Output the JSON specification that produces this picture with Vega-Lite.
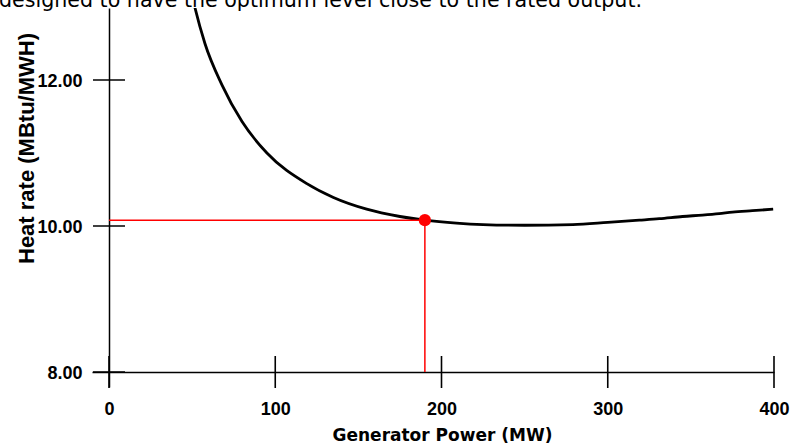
{
  "$schema": "https://vega.github.io/schema/vega-lite/v6.json",
  "width": 682,
  "height": 379,
  "autosize": {"type": "none"},
  "padding": {"left": 92, "top": 8, "right": 19, "bottom": 60},
  "background": "white",
  "title": {
    "text": "designed to have the optimum level close to the rated output.",
    "anchor": "start",
    "frame": "group",
    "orient": "top",
    "offset": 0,
    "dx": -93,
    "dy": 20,
    "baseline": "alphabetic",
    "font": "DejaVu Sans",
    "fontSize": 20.6,
    "fontWeight": "normal",
    "color": "black"
  },
  "config": {"view": {"stroke": null}},
  "datasets": {
    "curve": [
      {"power": 48, "heat_rate": 13.36},
      {"power": 51.7, "heat_rate": 12.99},
      {"power": 57.7, "heat_rate": 12.5},
      {"power": 68, "heat_rate": 11.93},
      {"power": 80, "heat_rate": 11.43},
      {"power": 95, "heat_rate": 11.0},
      {"power": 119, "heat_rate": 10.58},
      {"power": 135, "heat_rate": 10.39},
      {"power": 155, "heat_rate": 10.23},
      {"power": 175, "heat_rate": 10.13},
      {"power": 190, "heat_rate": 10.08},
      {"power": 209, "heat_rate": 10.04},
      {"power": 225, "heat_rate": 10.02},
      {"power": 250, "heat_rate": 10.01},
      {"power": 279, "heat_rate": 10.02},
      {"power": 300, "heat_rate": 10.05},
      {"power": 319, "heat_rate": 10.08},
      {"power": 331, "heat_rate": 10.1},
      {"power": 345, "heat_rate": 10.13},
      {"power": 357, "heat_rate": 10.15},
      {"power": 367, "heat_rate": 10.17},
      {"power": 375, "heat_rate": 10.19},
      {"power": 387, "heat_rate": 10.21},
      {"power": 399.5, "heat_rate": 10.23}
    ],
    "operating_point": [
      {"power": 190, "heat_rate": 10.08}
    ],
    "x_ticks": [
      {"power": 0, "heat_rate": 8},
      {"power": 100, "heat_rate": 8},
      {"power": 200, "heat_rate": 8},
      {"power": 300, "heat_rate": 8},
      {"power": 400, "heat_rate": 8}
    ],
    "y_ticks": [
      {"power": 0, "heat_rate": 8},
      {"power": 0, "heat_rate": 10},
      {"power": 0, "heat_rate": 12}
    ]
  },
  "encoding": {
    "x": {
      "field": "power",
      "type": "quantitative",
      "scale": {"domain": [-10.226, 400], "nice": false, "zero": false},
      "axis": {
        "title": "Generator Power (MW)",
        "values": [0, 100, 200, 300, 400],
        "format": "d",
        "offset": -15,
        "ticks": false,
        "tickSize": 0,
        "grid": false,
        "domainColor": "black",
        "domainWidth": 1.5,
        "labelFont": "Liberation Sans",
        "labelFontWeight": "bold",
        "labelFontSize": 18,
        "labelColor": "black",
        "labelPadding": 28,
        "labelBaseline": "top",
        "labelFlush": false,
        "labelOverlap": false,
        "titleFont": "DejaVu Sans",
        "titleFontWeight": "bold",
        "titleFontSize": 17,
        "titleColor": "black",
        "titleX": 350,
        "titleY": 68,
        "titleBaseline": "alphabetic",
        "titleAlign": "center"
      }
    },
    "y": {
      "field": "heat_rate",
      "type": "quantitative",
      "scale": {"domain": [7.7945, 12.986], "nice": false, "zero": false},
      "axis": {
        "title": "Heat rate (MBtu/MWH)",
        "values": [8, 10, 12],
        "format": ".2f",
        "offset": -17,
        "ticks": false,
        "tickSize": 0,
        "grid": false,
        "domainColor": "black",
        "domainWidth": 1.5,
        "labelFont": "Liberation Sans",
        "labelFontWeight": "bold",
        "labelFontSize": 18,
        "labelColor": "black",
        "labelPadding": 27,
        "labelBaseline": "middle",
        "labelOffset": 2,
        "labelFlush": false,
        "labelOverlap": false,
        "titleFont": "Liberation Sans",
        "titleFontWeight": "bold",
        "titleFontSize": 22,
        "titleColor": "black",
        "titleAngle": 270,
        "titleX": -76,
        "titleY": 140,
        "titleBaseline": "alphabetic",
        "titleAlign": "center"
      }
    }
  },
  "layer": [
    {
      "data": {"name": "curve"},
      "mark": {"type": "line", "color": "black", "strokeWidth": 2.8, "interpolate": "monotone", "clip": true}
    },
    {
      "data": {"name": "operating_point"},
      "mark": {"type": "rule", "color": "#ff0000", "strokeWidth": 1.5},
      "encoding": {
        "x": {"datum": 0, "type": "quantitative"},
        "x2": {"field": "power"}
      }
    },
    {
      "data": {"name": "operating_point"},
      "mark": {"type": "rule", "color": "#ff0000", "strokeWidth": 1.5},
      "encoding": {
        "y": {"datum": 8, "type": "quantitative"},
        "y2": {"field": "heat_rate"}
      }
    },
    {
      "data": {"name": "operating_point"},
      "mark": {"type": "circle", "color": "#ff0000", "size": 150, "opacity": 1}
    },
    {
      "data": {"name": "x_ticks"},
      "mark": {"type": "tick", "orient": "vertical", "color": "black", "size": 32, "thickness": 1.6, "opacity": 1}
    },
    {
      "data": {"name": "y_ticks"},
      "mark": {"type": "tick", "orient": "horizontal", "color": "black", "size": 32, "thickness": 1.6, "opacity": 1}
    }
  ]
}
